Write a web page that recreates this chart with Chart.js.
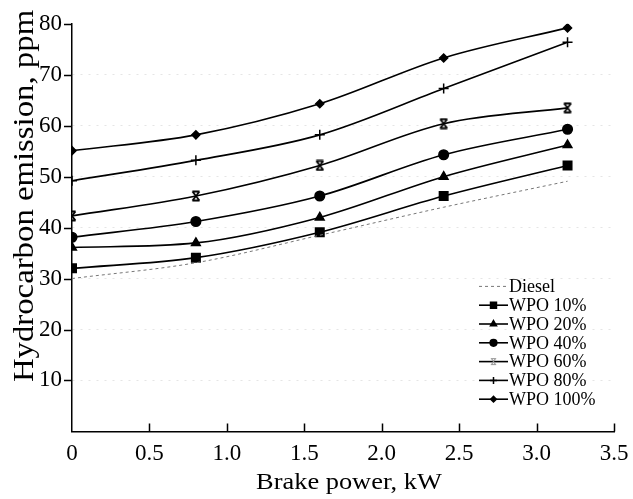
<!DOCTYPE html>
<html>
<head>
<meta charset="utf-8">
<script src="https://cdn.jsdelivr.net/npm/chart.js@4.4.1/dist/chart.umd.min.js"></script>
<style>
  html, body { margin: 0; padding: 0; background: #fff; }
  #wrap { width: 633px; height: 499px; }
</style>
</head>
<body>
<div id="wrap"><canvas id="grafica" width="633" height="499"></canvas></div>
<script>
// values
var potencia = [0, 0.8, 1.6, 2.4, 3.2];
var diesel  = [30.0, 33.1, 38.5, 44.0, 49.1];
var wpo10   = [32.0, 34.1, 39.1, 46.2, 52.2];
var wpo20   = [36.1, 37.0, 42.0, 50.0, 56.2];
var wpo40   = [38.1, 41.2, 46.2, 54.3, 59.3];
var wpo60   = [42.3, 46.2, 52.2, 60.4, 63.5];
var wpo80   = [49.2, 53.2, 58.2, 67.3, 76.4];
var wpo100  = [55.1, 58.2, 64.3, 73.3, 79.2];
var nombres = ["Diesel", "WPO 10%", "WPO 20%", "WPO 40%", "WPO 60%", "WPO 80%", "WPO 100%"];
var xTicks = [0, 0.5, 1.0, 1.5, 2.0, 2.5, 3.0, 3.5];
var yTicks = [10, 20, 30, 40, 50, 60, 70, 80];
var tituloX = 'Brake power, kW';
var tituloY = 'Hydrocarbon emission, ppm';

var fuente = "'Liberation Serif', 'DejaVu Serif', serif";

// X with short bars top and bottom (WPO 60% marker)
function marcaEstrella(size, color, lw) {
    var c = document.createElement('canvas');
    c.width = size; c.height = size;
    var g = c.getContext('2d');
    g.strokeStyle = color;
    g.lineWidth = lw;
    var a = 1.5, b = size - 1.5, m = size / 2, h = size * 0.3;
    g.beginPath();
    g.moveTo(a + 1, a); g.lineTo(b - 1, b);
    g.moveTo(b - 1, a); g.lineTo(a + 1, b);
    g.moveTo(m - h, a); g.lineTo(m + h, a);
    g.moveTo(m - h, b); g.lineTo(m + h, b);
    g.stroke();
    return c;
}
var estrella = marcaEstrella(12, '#000', 1.8);
var estrellaLeyenda = marcaEstrella(9, '#999', 1.2);

function puntos(arr) {
    return arr.map(function (v, i) { return { x: potencia[i], y: v }; });
}

var series = [diesel, wpo10, wpo20, wpo40, wpo60, wpo80, wpo100];
var estilos = [
    { pointStyle: false, radius: 0, dash: [3, 3], color: '#777', width: 1 },
    { pointStyle: 'rect', radius: 6, dash: [], color: '#000', width: 1.6 },
    { pointStyle: 'triangle', radius: 5, dash: [], color: '#000', width: 1.6 },
    { pointStyle: 'circle', radius: 4.8, dash: [], color: '#000', width: 1.6 },
    { pointStyle: estrella, radius: 5, dash: [], color: '#000', width: 1.6 },
    { pointStyle: 'cross', radius: 5, dash: [], color: '#000', width: 1.6 },
    { pointStyle: 'rectRot', radius: 4, dash: [], color: '#000', width: 1.6 }
];

var datasets = series.map(function (s, i) {
    var e = estilos[i];
    return {
        label: nombres[i],
        data: puntos(s),
        borderColor: e.color,
        backgroundColor: e.color,
        borderWidth: e.width,
        borderDash: e.dash,
        pointStyle: e.pointStyle,
        pointRadius: e.radius,
        pointBorderWidth: 1.5,
        pointBackgroundColor: '#000',
        pointBorderColor: '#000',
        cubicInterpolationMode: 'monotone',
        fill: false
    };
});

// tick marks (y outward, x inward), axis titles and legend inside the plot
var marcas = {
    id: 'marcas',
    afterDraw: function (chart) {
        var ctx = chart.ctx;
        var xs = chart.scales.x, ys = chart.scales.y, area = chart.chartArea;
        ctx.save();
        ctx.strokeStyle = '#000';
        ctx.lineWidth = 1.5;
        ctx.beginPath();
        yTicks.forEach(function (v) {
            var p = Math.round(ys.getPixelForValue(v)) + 0.5;
            ctx.moveTo(area.left - 8, p);
            ctx.lineTo(area.left, p);
        });
        xTicks.forEach(function (v) {
            if (v === 0) return;
            var p = Math.round(xs.getPixelForValue(v)) + 0.5;
            ctx.moveTo(p, area.bottom);
            ctx.lineTo(p, area.bottom - 8);
        });
        ctx.stroke();

        // titles
        ctx.fillStyle = '#000';
        ctx.textAlign = 'center';
        ctx.textBaseline = 'alphabetic';
        ctx.save();
        ctx.font = "24px " + fuente;
        ctx.translate(349, 489);
        ctx.scale(1.1, 1);
        ctx.fillText(tituloX, 0, 0);
        ctx.restore();
        ctx.save();
        ctx.font = "29px " + fuente;
        ctx.translate(33, 196);
        ctx.rotate(-Math.PI / 2);
        ctx.scale(1.13, 1);
        ctx.fillText(tituloY, 0, 0);
        ctx.restore();

        // legend
        var x0 = area.right - 135, y0 = area.bottom - 145, paso = 18.8;
        ctx.font = "18px " + fuente;
        ctx.textAlign = 'left';
        ctx.textBaseline = 'middle';
        chart.data.datasets.forEach(function (d, i) {
            var y = y0 + i * paso;
            var e = estilos[i];
            ctx.save();
            ctx.strokeStyle = e.color;
            ctx.lineWidth = e.width;
            ctx.setLineDash(e.dash);
            ctx.beginPath();
            ctx.moveTo(x0, y);
            ctx.lineTo(x0 + 29, y);
            ctx.stroke();
            ctx.restore();
            if (e.pointStyle) {
                ctx.save();
                ctx.fillStyle = '#000';
                ctx.strokeStyle = '#000';
                Chart.helpers.drawPoint(ctx, {
                    pointStyle: i === 4 ? estrellaLeyenda : e.pointStyle,
                    radius: e.radius * 0.7,
                    rotation: 0,
                    borderWidth: 1.2
                }, x0 + 14.5, y);
                ctx.restore();
            }
            ctx.fillText(d.label, x0 + 30, y + 1);
        });
        ctx.restore();
    }
};

var ctx = document.getElementById('grafica').getContext('2d');
var grafica = new Chart(ctx, {
    type: 'line',
    data: { datasets: datasets },
    options: {
        responsive: false,
        animation: false,
        layout: { padding: { left: 29, right: 19, top: 17, bottom: 22 } },
        plugins: {
            legend: { display: false },
            tooltip: { enabled: false }
        },
        scales: {
            x: {
                type: 'linear',
                min: 0,
                max: 3.5,
                afterBuildTicks: function (axis) {
                    axis.ticks = xTicks.map(function (v) { return { value: v }; });
                },
                afterFit: function (axis) {
                    axis.paddingRight = 0;
                },
                grid: { display: false, drawTicks: false },
                border: { display: true, color: '#000', width: 1.5 },
                ticks: {
                    color: '#000',
                    padding: 9,
                    maxRotation: 0,
                    font: { family: fuente, size: 23 },
                    callback: function (v) { return v === 0 ? '0' : v.toFixed(1); }
                }
            },
            y: {
                min: 0,
                max: 80,
                afterBuildTicks: function (axis) {
                    axis.ticks = yTicks.map(function (v) { return { value: v }; });
                },
                grid: {
                    drawTicks: false,
                    color: function (c) {
                        return c.tick && c.tick.value === 80 ? 'rgba(0,0,0,0)' : 'rgba(0,0,0,0.1)';
                    },
                    lineWidth: 1
                },
                border: { display: true, color: '#000', width: 1.5, dash: [2, 6] },
                ticks: {
                    color: '#000',
                    padding: 10,
                    font: { family: fuente, size: 23 }
                }
            }
        }
    },
    plugins: [marcas]
});
</script>
</body>
</html>
